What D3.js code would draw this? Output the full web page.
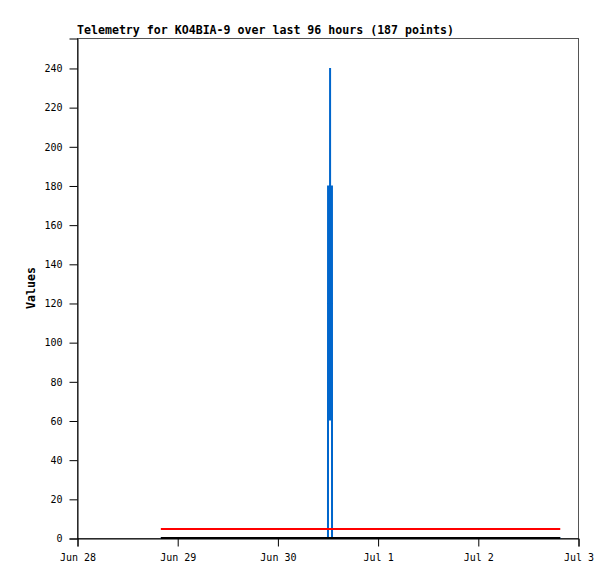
<!DOCTYPE html>
<html lang="en">
<head>
	<meta charset="UTF-8">
	<title>Telemetry</title>
	<script src="https://d3js.org/d3.v7.min.js"></script>
	<style>
		body{
			margin: 0;
			background: #fff;
			font-family: "DejaVu Sans Mono", monospace;
		}
		svg{
			display: block;
		}
	</style>
</head>
<body>
	<div id="chart"></div>
	<script>
		// telemetry series (UTC times, values)
		var blackTimes = ['2025-06-28T20:05Z', '2025-07-02T19:45Z'];
		var blackValues = [0, 0];

		var redTimes = ['2025-06-28T20:05Z', '2025-07-02T19:45Z'];
		var redValues = [4.6, 4.6];

		var blueTimes = ['2025-06-28T20:05Z', '2025-06-30T12:06Z', '2025-06-30T12:07Z', '2025-06-30T12:08Z',
			'2025-06-30T12:36Z', '2025-06-30T12:37Z', '2025-06-30T12:38Z', '2025-06-30T13:04Z',
			'2025-06-30T13:05Z', '2025-07-02T19:45Z'];
		var blueValues = [0, 0, 0, 180, 60, 240, 60, 180, 0, 0];

		var yTicks = [0, 20, 40, 60, 80, 100, 120, 140, 160, 180, 200, 220, 240];
		var xTicks = ['2025-06-28T00:00Z', '2025-06-29T00:00Z', '2025-06-30T00:00Z',
			'2025-07-01T00:00Z', '2025-07-02T00:00Z', '2025-07-03T00:00Z'];

		var W = 615, H = 579;
		var margin = {top: 38, left: 77, right: 37, bottom: 41};
		var width = W - margin.left - margin.right;
		var height = H - margin.top - margin.bottom;

		var svg = d3.select('#chart').append('svg')
			.attr('width', W)
			.attr('height', H);

		var g = svg.append('g')
			.attr('transform', 'translate(' + margin.left + ',' + margin.top + ')');

		var xScale = d3.scaleUtc()
			.domain([new Date(xTicks[0]), new Date(xTicks[xTicks.length - 1])])
			.range([0, width]);
		var yScale = d3.scaleLinear().domain([0, 255.3]).range([height, 0]);

		// frame (top/right in grey)
		g.append('rect')
			.attr('x', 0.5).attr('y', 0.5)
			.attr('width', width).attr('height', height)
			.attr('fill', 'none')
			.attr('stroke', '#555')
			.attr('stroke-width', 1);

		var xAxis = d3.axisBottom(xScale)
			.tickValues(xTicks.map(function(d){ return new Date(d); }))
			.tickSize(8)
			.tickPadding(7)
			.tickFormat(d3.utcFormat('%b %-d'));
		var yAxis = d3.axisLeft(yScale)
			.tickValues(yTicks)
			.tickSize(8)
			.tickPadding(7);

		var gx = g.append('g')
			.attr('transform', 'translate(0.5,' + (height + 0.5) + ')')
			.call(xAxis);
		var gy = g.append('g')
			.attr('transform', 'translate(0.5,0.5)')
			.call(yAxis);

		[gx, gy].forEach(function(ax){
			ax.select('.domain').attr('stroke', '#000');
			ax.selectAll('.tick line').attr('stroke', '#000');
			ax.selectAll('text')
				.attr('fill', '#000')
				.style('font-family', '"DejaVu Sans Mono", monospace')
				.style('font-size', '10px');
		});

		function series(times, values){
			return times.map(function(t, i){ return [new Date(t), values[i]]; });
		}
		var line = d3.line()
			.x(function(d){ return xScale(d[0]); })
			.y(function(d){ return yScale(d[1]); });

		var lines = [
			{data: series(blueTimes, blueValues), color: '#0066cc'},
			{data: series(redTimes, redValues), color: '#ff0000'},
			{data: series(blackTimes, blackValues), color: '#000000'}
		];

		g.selectAll('path.series')
			.data(lines)
			.enter()
			.append('path')
			.attr('class', 'series')
			.attr('fill', 'none')
			.attr('stroke', function(d){ return d.color; })
			.attr('stroke-width', 2)
			.attr('d', function(d){ return line(d.data); });

		// title
		svg.append('text')
			.attr('x', margin.left)
			.attr('y', 34)
			.style('font-family', '"DejaVu Sans Mono", monospace')
			.style('font-size', '11.6px')
			.style('font-weight', 'bold')
			.text('Telemetry for KO4BIA-9 over last 96 hours (187 points)');

		// y label
		svg.append('text')
			.attr('transform', 'translate(35,' + (margin.top + height / 2) + ') rotate(-90)')
			.attr('text-anchor', 'middle')
			.style('font-family', '"DejaVu Sans Mono", monospace')
			.style('font-size', '11.6px')
			.style('font-weight', 'bold')
			.text('Values');
	</script>
</body>
</html>
